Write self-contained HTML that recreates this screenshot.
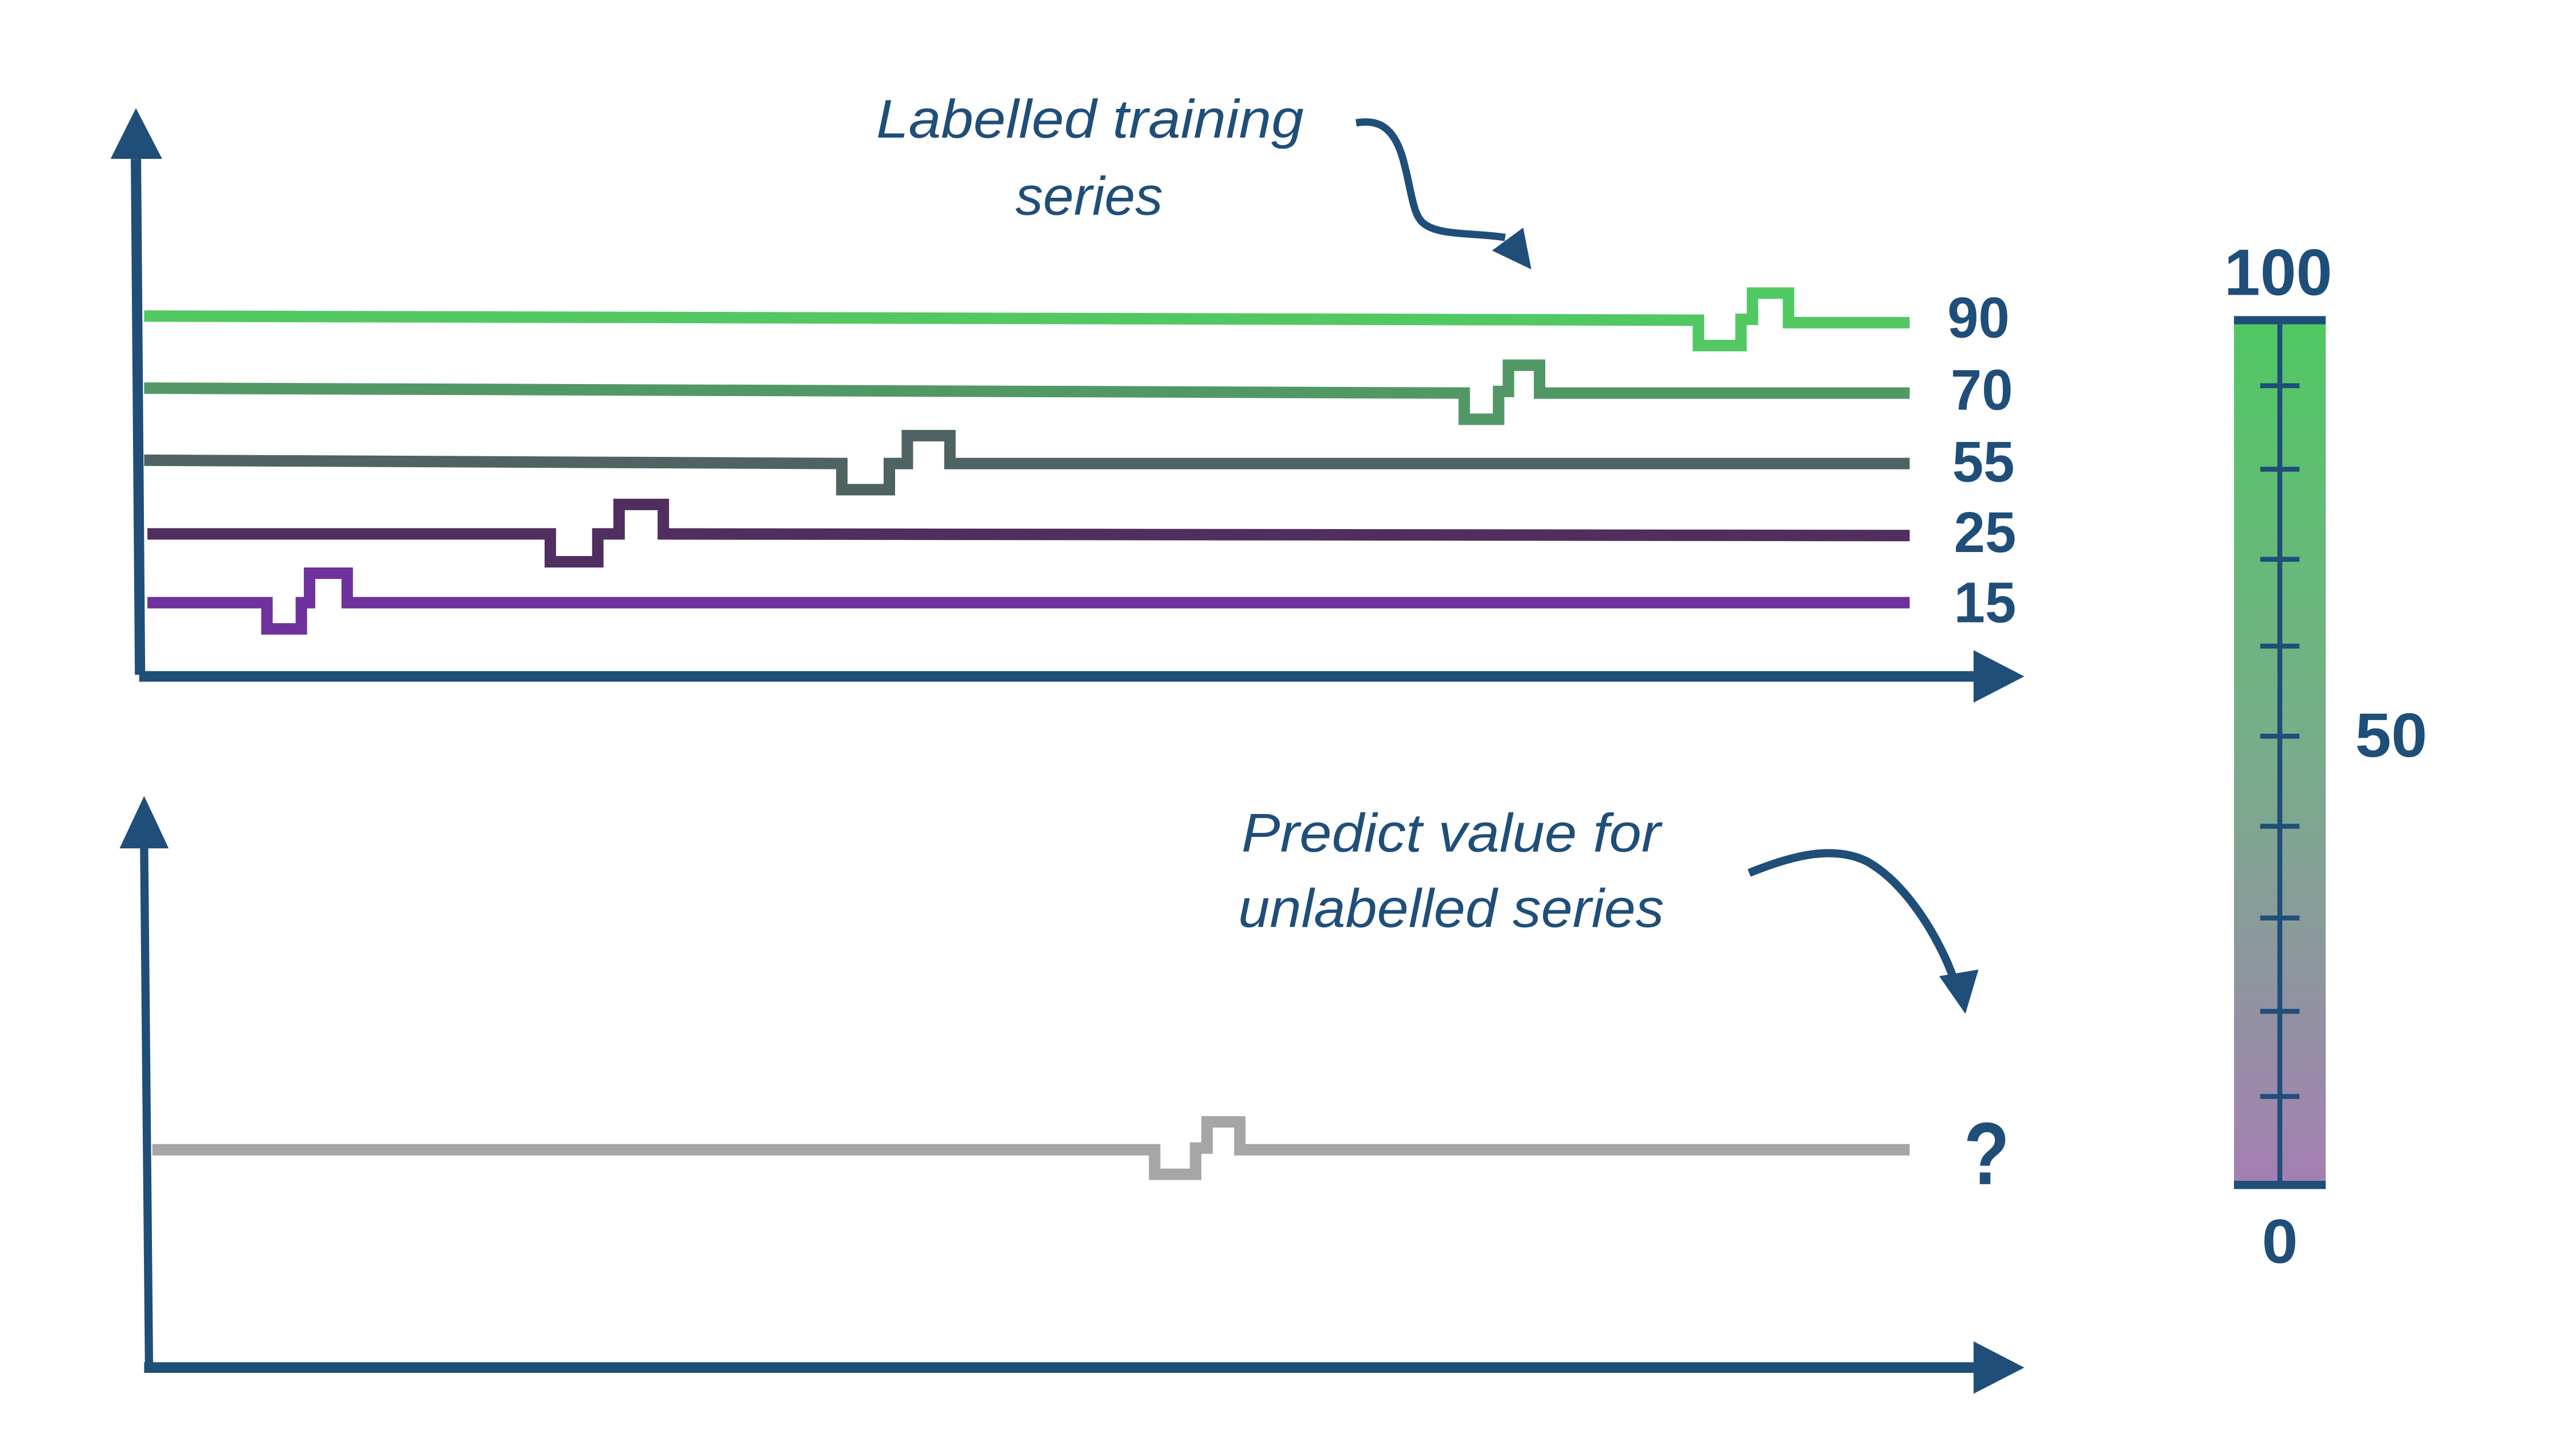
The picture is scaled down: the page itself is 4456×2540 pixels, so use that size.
<!DOCTYPE html>
<html><head><meta charset="utf-8"><style>
html,body{margin:0;padding:0;background:#fff;}
svg{display:block;}
</style></head><body>
<svg width="4456" height="2540" viewBox="0 0 1560 889" preserveAspectRatio="none" xmlns="http://www.w3.org/2000/svg">
<defs>
<linearGradient id="cb" x1="0" y1="0" x2="0" y2="1">
<stop offset="0" stop-color="#50c863"/>
<stop offset="0.5" stop-color="#78ad8a"/>
<stop offset="1" stop-color="#a57fb3"/>
</linearGradient>
</defs>
<g fill="none" stroke-width="7" stroke-linejoin="miter">
<path stroke="#52c863" d="M88,193 L1037,195.5 L1037,211 L1063,211 L1063,195 L1070,195 L1070,179 L1092,179 L1092,197 L1166,197"/>
<path stroke="#529866" d="M88,237 L894,240 L894,256 L915,256 L915,239 L921,239 L921,223 L940,223 L940,240 L1166,240"/>
<path stroke="#4f6462" d="M88,281 L514,283 L514,299 L543,299 L543,283 L554,283 L554,266 L580,266 L580,283 L1166,283"/>
<path stroke="#502e60" d="M90,326 L336,326 L336,343 L365,343 L365,326 L378,326 L378,308 L405,308 L405,326 L1166,327"/>
<path stroke="#6f329d" d="M90,368 L163,368 L163,384 L184,384 L184,368 L189,368 L189,350 L212,350 L212,368 L1166,368"/>
<path stroke="#a6a6a6" d="M93,702 L705,702 L705,717 L730,717 L730,701 L737,701 L737,685 L757,685 L757,702 L1166,702"/>
</g>
<g stroke="#1f4e79" fill="none">
<path stroke-width="6.3" d="M83,97 L85.5,412"/>
<path stroke-width="6.5" d="M85,413 L1207,413"/>
<path stroke-width="5" d="M88,517 L91,835"/>
<path stroke-width="6.5" d="M88,835 L1207,835"/>
<path stroke-width="4.5" d="M828,75 C840,73 850,76 856,95 C862,115 862,132 870,137 C880,144 900,142 919,145"/>
<path stroke-width="5" d="M1068,533 C1095,522 1120,516 1140,526 C1165,540 1185,575 1193,598"/>
</g>
<g fill="#1f4e79">
<polygon points="83,66 67.5,97 99,97"/>
<polygon points="1236,413 1205,397 1205,429"/>
<polygon points="88,486 73,518 103,518"/>
<polygon points="1236,835 1205,819 1205,851"/>
<polygon points="935,164.5 911,153 930,139"/>
<polygon points="1200,619 1184,596 1208,592"/>
</g>
<rect x="1364" y="196" width="56" height="529" fill="url(#cb)"/>
<g fill="#1f4e79">
<rect x="1364" y="193" width="56" height="5"/>
<rect x="1364" y="721" width="56" height="5"/>
<rect x="1390.5" y="198" width="3" height="524"/>
<g>
<rect x="1380" y="234" width="24" height="3"/>
<rect x="1380" y="285" width="24" height="3"/>
<rect x="1380" y="340" width="24" height="3"/>
<rect x="1380" y="393" width="24" height="3"/>
<rect x="1380" y="448" width="24" height="3"/>
<rect x="1380" y="503" width="24" height="3"/>
<rect x="1380" y="559" width="24" height="3"/>
<rect x="1380" y="616" width="24" height="3"/>
<rect x="1380" y="668" width="24" height="3"/>
</g>
</g>
<g fill="#1f4e79" font-family="Liberation Sans, sans-serif" font-weight="bold" font-size="35">
<text x="1189" y="206" textLength="38" lengthAdjust="spacingAndGlyphs">90</text>
<text x="1191" y="250" textLength="38" lengthAdjust="spacingAndGlyphs">70</text>
<text x="1192" y="294" textLength="38" lengthAdjust="spacingAndGlyphs">55</text>
<text x="1193" y="337" textLength="38" lengthAdjust="spacingAndGlyphs">25</text>
<text x="1193" y="380" textLength="38" lengthAdjust="spacingAndGlyphs">15</text>
<text x="1358" y="180" font-size="40" textLength="66" lengthAdjust="spacingAndGlyphs">100</text>
<text x="1438" y="462" font-size="38" textLength="44" lengthAdjust="spacingAndGlyphs">50</text>
<text x="1381" y="771" font-size="38" textLength="22" lengthAdjust="spacingAndGlyphs">0</text>
<text x="1199" y="723" font-size="54" textLength="28" lengthAdjust="spacingAndGlyphs">?</text>
</g>
<g fill="#1f4e79" font-family="Liberation Sans, sans-serif" font-style="italic" font-size="33">
<text x="535" y="84" textLength="261" lengthAdjust="spacingAndGlyphs">Labelled training</text>
<text x="620" y="131" textLength="90" lengthAdjust="spacingAndGlyphs">series</text>
<text x="758" y="520" textLength="256" lengthAdjust="spacingAndGlyphs">Predict value for</text>
<text x="756" y="566" textLength="260" lengthAdjust="spacingAndGlyphs">unlabelled series</text>
</g>
</svg>
</body></html>
